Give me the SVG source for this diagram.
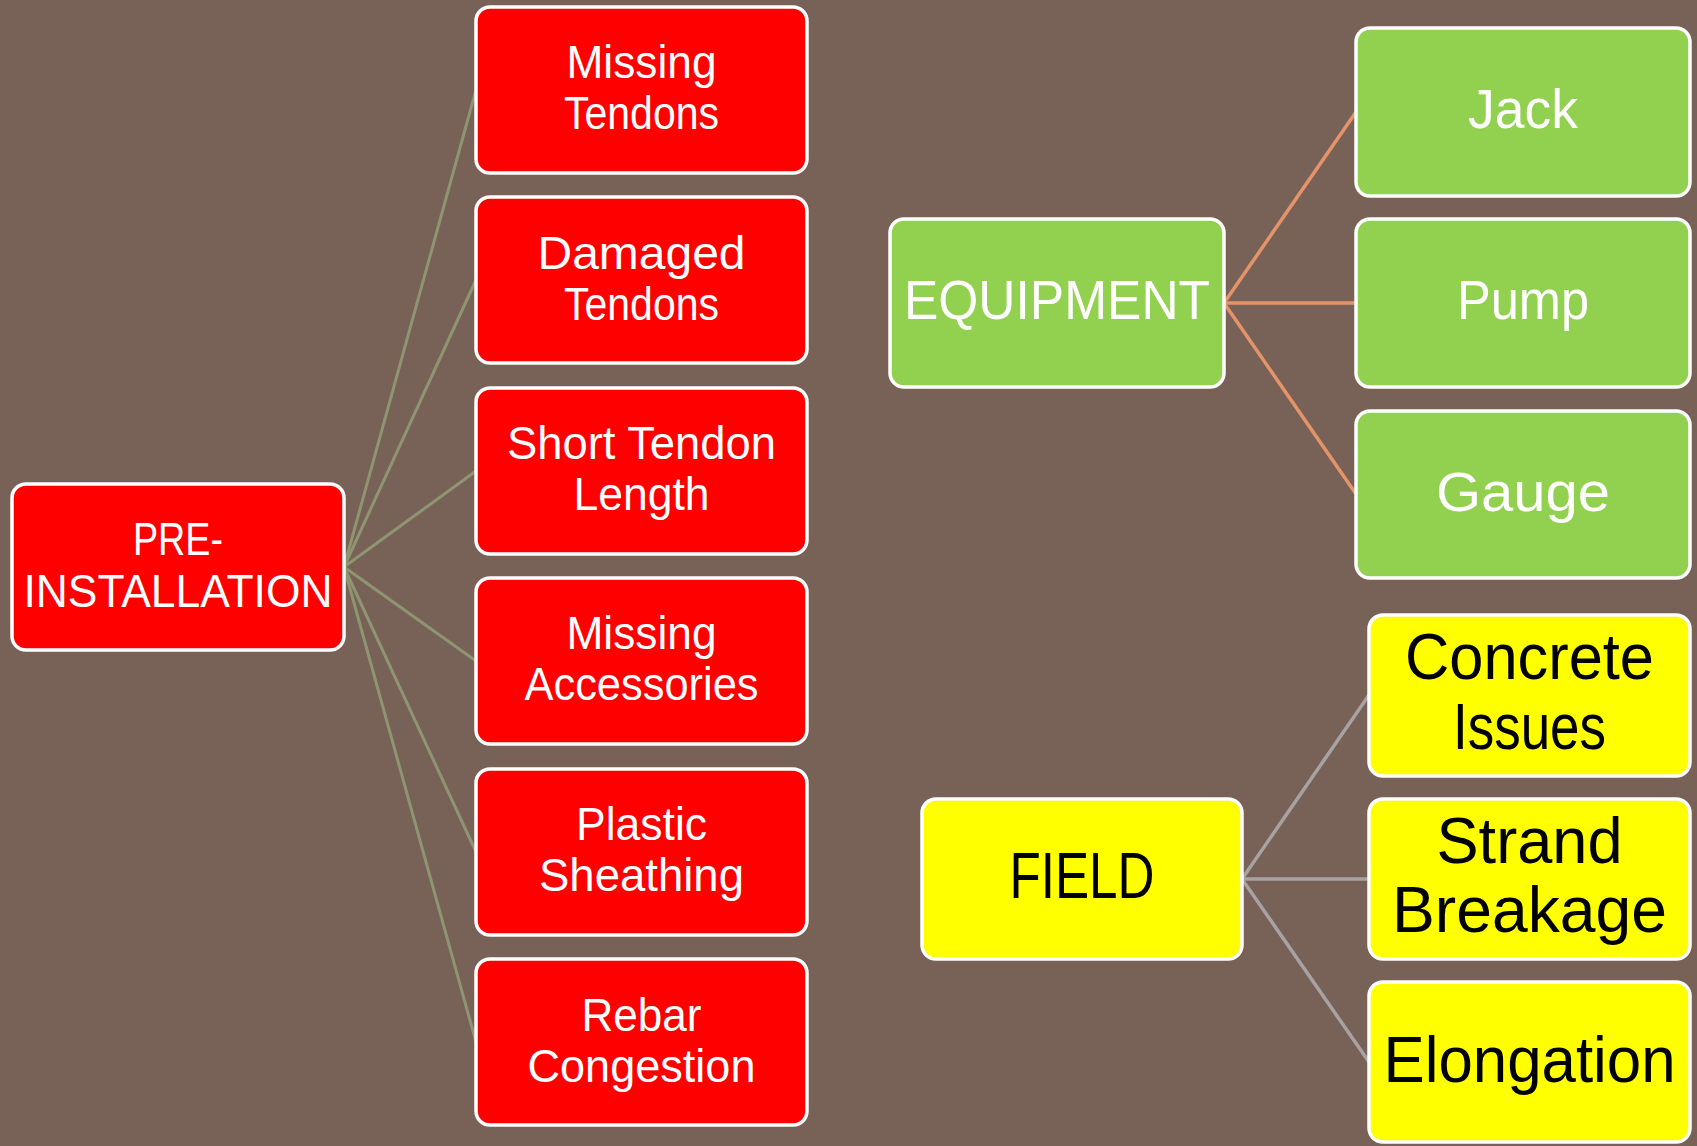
<svg xmlns="http://www.w3.org/2000/svg" width="1697" height="1146" viewBox="0 0 1697 1146">
  <style>
    .box { stroke: #FFFFFF; stroke-width: 3.5; }
    .red { fill: #FF0000; }
    .green { fill: #92D050; }
    .yellow { fill: #FFFF00; }
    .t { font-family: "Liberation Sans", Arial, sans-serif; text-anchor: middle; }
    .tw { fill: #FFFFFF; }
    .tb { fill: #000000; }
    .s46 { font-size: 46px; }
    .s56 { font-size: 56px; }
    .s64 { font-size: 64px; }
    .c-olive { stroke: #8E9570; stroke-width: 3; fill: none; }
    .c-orange { stroke: #E5946A; stroke-width: 3.5; fill: none; }
    .c-gray { stroke: #A8A2A2; stroke-width: 3.5; fill: none; }
  </style>

  <!-- background -->
  <rect x="0" y="0" width="1697" height="1146" fill="#786157"/>

  <!-- connectors -->
  <g id="connectors">
    <line class="c-olive" x1="344" y1="567" x2="476" y2="90"/>
    <line class="c-olive" x1="344" y1="567" x2="476" y2="280"/>
    <line class="c-olive" x1="344" y1="567" x2="476" y2="471"/>
    <line class="c-olive" x1="344" y1="567" x2="476" y2="661"/>
    <line class="c-olive" x1="344" y1="567" x2="476" y2="852"/>
    <line class="c-olive" x1="344" y1="567" x2="476" y2="1042"/>

    <line class="c-orange" x1="1224" y1="303" x2="1356" y2="112"/>
    <line class="c-orange" x1="1224" y1="303" x2="1356" y2="303"/>
    <line class="c-orange" x1="1224" y1="303" x2="1356" y2="494"/>

    <line class="c-gray" x1="1242" y1="879" x2="1369" y2="695"/>
    <line class="c-gray" x1="1242" y1="879" x2="1369" y2="879"/>
    <line class="c-gray" x1="1242" y1="879" x2="1369" y2="1062"/>
  </g>

  <!-- pre-installation branch -->
  <g id="pre-installation">
    <rect class="box red" x="12" y="484" width="332" height="166" rx="14"/>
    <text class="t tw s46" x="178" y="555" textLength="90" lengthAdjust="spacingAndGlyphs">PRE-</text>
    <text class="t tw s46" x="178" y="607" textLength="309" lengthAdjust="spacingAndGlyphs">INSTALLATION</text>
  </g>

  <g id="missing-tendons">
    <rect class="box red" x="476" y="7" width="331" height="166" rx="14"/>
    <text class="t tw s46" x="641.5" y="78" textLength="150" lengthAdjust="spacingAndGlyphs">Missing</text>
    <text class="t tw s46" x="641.5" y="129" textLength="155" lengthAdjust="spacingAndGlyphs">Tendons</text>
  </g>

  <g id="damaged-tendons">
    <rect class="box red" x="476" y="197" width="331" height="166" rx="14"/>
    <text class="t tw s46" x="641.5" y="269" textLength="208" lengthAdjust="spacingAndGlyphs">Damaged</text>
    <text class="t tw s46" x="641.5" y="320" textLength="155" lengthAdjust="spacingAndGlyphs">Tendons</text>
  </g>

  <g id="short-tendon-length">
    <rect class="box red" x="476" y="388" width="331" height="166" rx="14"/>
    <text class="t tw s46" x="641.5" y="459" textLength="269" lengthAdjust="spacingAndGlyphs">Short Tendon</text>
    <text class="t tw s46" x="641.5" y="510" textLength="136" lengthAdjust="spacingAndGlyphs">Length</text>
  </g>

  <g id="missing-accessories">
    <rect class="box red" x="476" y="578" width="331" height="166" rx="14"/>
    <text class="t tw s46" x="641.5" y="649" textLength="150" lengthAdjust="spacingAndGlyphs">Missing</text>
    <text class="t tw s46" x="641.5" y="700" textLength="234" lengthAdjust="spacingAndGlyphs">Accessories</text>
  </g>

  <g id="plastic-sheathing">
    <rect class="box red" x="476" y="769" width="331" height="166" rx="14"/>
    <text class="t tw s46" x="641.5" y="840" textLength="131" lengthAdjust="spacingAndGlyphs">Plastic</text>
    <text class="t tw s46" x="641.5" y="891" textLength="205" lengthAdjust="spacingAndGlyphs">Sheathing</text>
  </g>

  <g id="rebar-congestion">
    <rect class="box red" x="476" y="959" width="331" height="166" rx="14"/>
    <text class="t tw s46" x="641.5" y="1031" textLength="120" lengthAdjust="spacingAndGlyphs">Rebar</text>
    <text class="t tw s46" x="641.5" y="1082" textLength="228" lengthAdjust="spacingAndGlyphs">Congestion</text>
  </g>

  <!-- equipment branch -->
  <g id="equipment">
    <rect class="box green" x="890" y="219" width="334" height="168" rx="14"/>
    <text class="t tw s56" x="1057" y="319" textLength="306" lengthAdjust="spacingAndGlyphs">EQUIPMENT</text>
  </g>

  <g id="jack">
    <rect class="box green" x="1356" y="28" width="334" height="168" rx="14"/>
    <text class="t tw s56" x="1523" y="128" textLength="110" lengthAdjust="spacingAndGlyphs">Jack</text>
  </g>

  <g id="pump">
    <rect class="box green" x="1356" y="219" width="334" height="168" rx="14"/>
    <text class="t tw s56" x="1523" y="319" textLength="132" lengthAdjust="spacingAndGlyphs">Pump</text>
  </g>

  <g id="gauge">
    <rect class="box green" x="1356" y="411" width="334" height="167" rx="14"/>
    <text class="t tw s56" x="1523" y="511" textLength="174" lengthAdjust="spacingAndGlyphs">Gauge</text>
  </g>

  <!-- field branch -->
  <g id="field">
    <rect class="box yellow" x="922" y="799" width="320" height="160" rx="14"/>
    <text class="t tb s64" x="1082" y="898" textLength="145" lengthAdjust="spacingAndGlyphs">FIELD</text>
  </g>

  <g id="concrete-issues">
    <rect class="box yellow" x="1369" y="615" width="321" height="161" rx="14"/>
    <text class="t tb s64" x="1529.5" y="679" textLength="249" lengthAdjust="spacingAndGlyphs">Concrete</text>
    <text class="t tb s64" x="1529.5" y="749" textLength="153" lengthAdjust="spacingAndGlyphs">Issues</text>
  </g>

  <g id="strand-breakage">
    <rect class="box yellow" x="1369" y="799" width="321" height="160" rx="14"/>
    <text class="t tb s64" x="1529.5" y="863" textLength="186" lengthAdjust="spacingAndGlyphs">Strand</text>
    <text class="t tb s64" x="1529.5" y="932" textLength="275" lengthAdjust="spacingAndGlyphs">Breakage</text>
  </g>

  <g id="elongation">
    <rect class="box yellow" x="1369" y="982" width="321" height="160" rx="14"/>
    <text class="t tb s64" x="1529.5" y="1082" textLength="292" lengthAdjust="spacingAndGlyphs">Elongation</text>
  </g>
</svg>
